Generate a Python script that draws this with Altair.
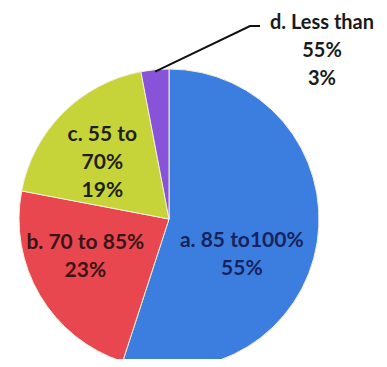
import math
import altair as alt
import pandas as pd

categories = ["a. 85 to100%", "b. 70 to 85%", "c. 55 to 70%", "d. Less than 55%"]
values = [55, 23, 19, 3]
label_texts = ["a. 85 to100%\n55%", "b. 70 to 85%\n23%", "c. 55 to\n70%\n19%", ""]
outside_label = "d. Less than\n55%\n3%"
colors = ["#3c7ee0", "#e8474f", "#c6d43a", "#8853d8"]
text_colors = ["#16235e", "#3a1418", "#1e1e0c", "#1a1a1a"]

# layout constants (chart pixel space)
W, H = 371, 351
CX, CY, R = 161, 211, 150
LH = 28
label_r = [81, 92, 87, 0]
label_nudge = [17, 6, -5, 0]  # degrees

total = sum(values)
cum = 0
lx, ly = [], []
mids = []
for v, r, n, t in zip(values, label_r, label_nudge, label_texts):
    mid = (cum + v / 2) / total * 360
    mids.append(mid)
    a = math.radians(mid + n)
    nlines = t.count("\n") + 1
    lx.append(CX + r * math.sin(a))
    ly.append(CY - r * math.cos(a) - (nlines - 1) * LH / 2)
    cum += v

df = pd.DataFrame({
    "category": categories,
    "value": values,
    "label": label_texts,
    "lx": lx,
    "ly": ly,
    "order": list(range(len(values))),
})

pie = alt.Chart(df).mark_arc(stroke="#f4f0d8", strokeWidth=1).encode(
    theta=alt.Theta("value:Q", stack=True),
    color=alt.Color("category:N", scale=alt.Scale(domain=categories, range=colors), legend=None),
    order=alt.Order("order:Q"),
    x=alt.value(CX),
    y=alt.value(CY),
    radius=alt.value(R),
)

labels = alt.Chart(df).mark_text(
    font="Lato", fontWeight="bold", fontSize=21, lineBreak="\n",
    lineHeight=LH, align="center", baseline="middle",
).encode(
    x=alt.X("lx:Q", scale=None),
    y=alt.Y("ly:Q", scale=None),
    text="label:N",
    color=alt.Color("category:N", scale=alt.Scale(domain=categories, range=text_colors), legend=None),
)

# leader line for slice d
dmid = math.radians(mids[3])
sx = CX + (R - 2) * math.sin(dmid)
sy = CY - (R - 2) * math.cos(dmid)
ex, ey = 242, 18
line_df = pd.DataFrame({"x": [sx, ex, ex + 10], "y": [sy, ey, ey], "o": [0, 1, 2]})
leader = alt.Chart(line_df).mark_line(color="#111111", strokeWidth=2).encode(
    x=alt.X("x:Q", scale=None),
    y=alt.Y("y:Q", scale=None),
    order="o:Q",
)

d_df = pd.DataFrame({"t": [outside_label], "x": [ex + 72], "y": [15]})
d_label = alt.Chart(d_df).mark_text(
    font="Lato", fontWeight="bold", fontSize=20, lineBreak="\n",
    lineHeight=28, align="center", baseline="middle", color="#1a1a1a",
).encode(
    x=alt.X("x:Q", scale=None),
    y=alt.Y("y:Q", scale=None),
    text="t:N",
)

chart = alt.layer(pie, labels, leader, d_label).resolve_scale(color="independent").properties(
    width=W, height=H, autosize=alt.AutoSizeParams(type="none"), padding=0,
).configure_view(stroke=None)

chart.save("out.html", embed_options={"renderer": "svg", "actions": False})
